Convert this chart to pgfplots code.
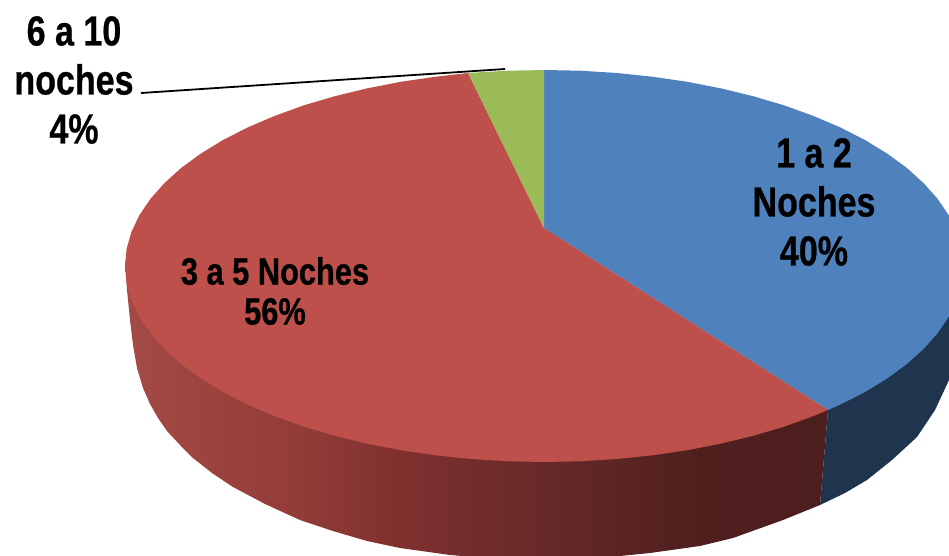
\documentclass[border=0pt]{standalone}
\usepackage{fontspec}
\setmainfont{Liberation Sans}[FakeStretch=0.81, FakeBold=0.6]
\usepackage{pgfplots}
\pgfplotsset{compat=1.18}
\definecolor{azul}{HTML}{4F81BD}
\definecolor{rojo}{HTML}{BE504C}
\definecolor{verde}{HTML}{9BBB59}
\definecolor{azuloscuro}{HTML}{1F344D}
\definecolor{ra}{HTML}{A44B47}
\definecolor{rb}{HTML}{9A413C}
\definecolor{rc}{HTML}{923C38}
\definecolor{rd}{HTML}{7F302F}
\definecolor{re}{HTML}{6E2C2A}
\definecolor{rf}{HTML}{5E2625}
\definecolor{rg}{HTML}{4F1F1E}
\definecolor{rh}{HTML}{4C1E1D}
% el path ocupa de 25bp a 75bp de la sombra
\pgfdeclarehorizontalshading{paredroja}{100bp}{color(0bp)=(ra); color(25bp)=(ra); color(32.5bp)=(rb); color(37.5bp)=(rc); color(44.5bp)=(rd); color(51.5bp)=(re); color(59bp)=(rf); color(66bp)=(rg); color(75bp)=(rh); color(100bp)=(rh)}
\tikzset{
    grande/.style={align=center, text=black, font=\bfseries\fontsize{42}{49}\selectfont},
    mediano/.style={align=center, text=black, font=\bfseries\fontsize{38}{40}\selectfont},
}
\begin{document}
\begin{tikzpicture}
\useasboundingbox (0,0) rectangle (949pt,556pt);
\begin{axis}[
    at={(0,0)},
    anchor=south west,
    scale only axis,
    width=949pt,
    height=556pt,
    xmin=0, xmax=949,
    ymin=0, ymax=556,
    y dir=reverse,
    hide axis,
]
% pared lateral
\addplot[draw=none, fill=azuloscuro] coordinates {
    (828,410)(820,505)(845,493)(867,480)(892,460)(917,437)(935,410)(949,380)(970,380)(970,300)(900,300)
} --cycle;
\addplot[draw=none, shade, shading=paredroja] coordinates {
    (125,262)(127,290)(130,320)(133,345)(137,368)(143,388)(150,404)(158,418)(167,431)
    (180,445)(193,458)(212,473)(233,487)(265,504)(300,520)(333,531)(367,541)(400,548)
    (450,555)(500,559)(550,560)(600,558)(650,553)(700,546)(733,538)(783,520)(820,505)
    (828,410)(544,300)
} --cycle;
% 1 a 2 Noches
\addplot[draw=none, fill=azul] coordinates {
    (544,228)(544,70)(580.5,70.7)(616.7,73)(652.4,76.7)(687.3,81.8)(721.1,88.4)(753.5,96.3)
    (784.3,105.4)(813.3,115.9)(840.3,127.4)(865,140)(887.2,153.6)(906.9,168)(923.7,183.2)
    (937.7,199)(948.7,215.3)(956.6,232)(961.4,248.9)(963,266)(961.4,283.1)(956.6,300)
    (948.7,316.7)(937.7,333)(923.7,348.8)(906.9,364)(887.2,378.4)(865,392)(840.3,404.6)(828,410)
} --cycle;
% 3 a 5 Noches
\addplot[draw=none, fill=rojo] coordinates {
    (544,228)(828,410)(813.3,416.1)(784.3,426.6)(753.5,435.7)(721.1,443.6)(687.3,450.2)
    (652.4,455.3)(616.7,459)(580.5,461.3)(544,462)(507.5,461.3)(471.3,459)(435.6,455.3)
    (400.7,450.2)(366.9,443.6)(334.5,435.7)(303.7,426.6)(274.7,416.1)(247.7,404.6)(223,392)
    (200.8,378.4)(181.1,364)(164.3,348.8)(150.3,333)(139.3,316.7)(131.4,300)(126.6,283.1)
    (125,266)(126.6,248.9)(131.4,232)(139.3,215.3)(150.3,199)(164.3,183.2)(181.1,168)
    (200.8,153.6)(223,140)(247.7,127.4)(274.7,115.9)(303.7,105.4)(334.5,96.3)(366.9,88.4)
    (400.7,81.8)(435.6,76.7)(468,73)
} --cycle;
% 6 a 10 noches
\addplot[draw=none, fill=verde] coordinates {
    (544,228)(468,73)(507.5,70.7)(544,70)
} --cycle;
% linea guia
\addplot[black, line width=1.8pt] coordinates {(141,93)(505,69)};
\node[grande] at (axis cs:814,202) {1 a 2\\Noches\\40\%};
\node[mediano] at (axis cs:275,291) {3 a 5 Noches\\56\%};
\node[grande] at (axis cs:74,80) {6 a 10\\noches\\4\%};
\end{axis}
\end{tikzpicture}
\end{document}
